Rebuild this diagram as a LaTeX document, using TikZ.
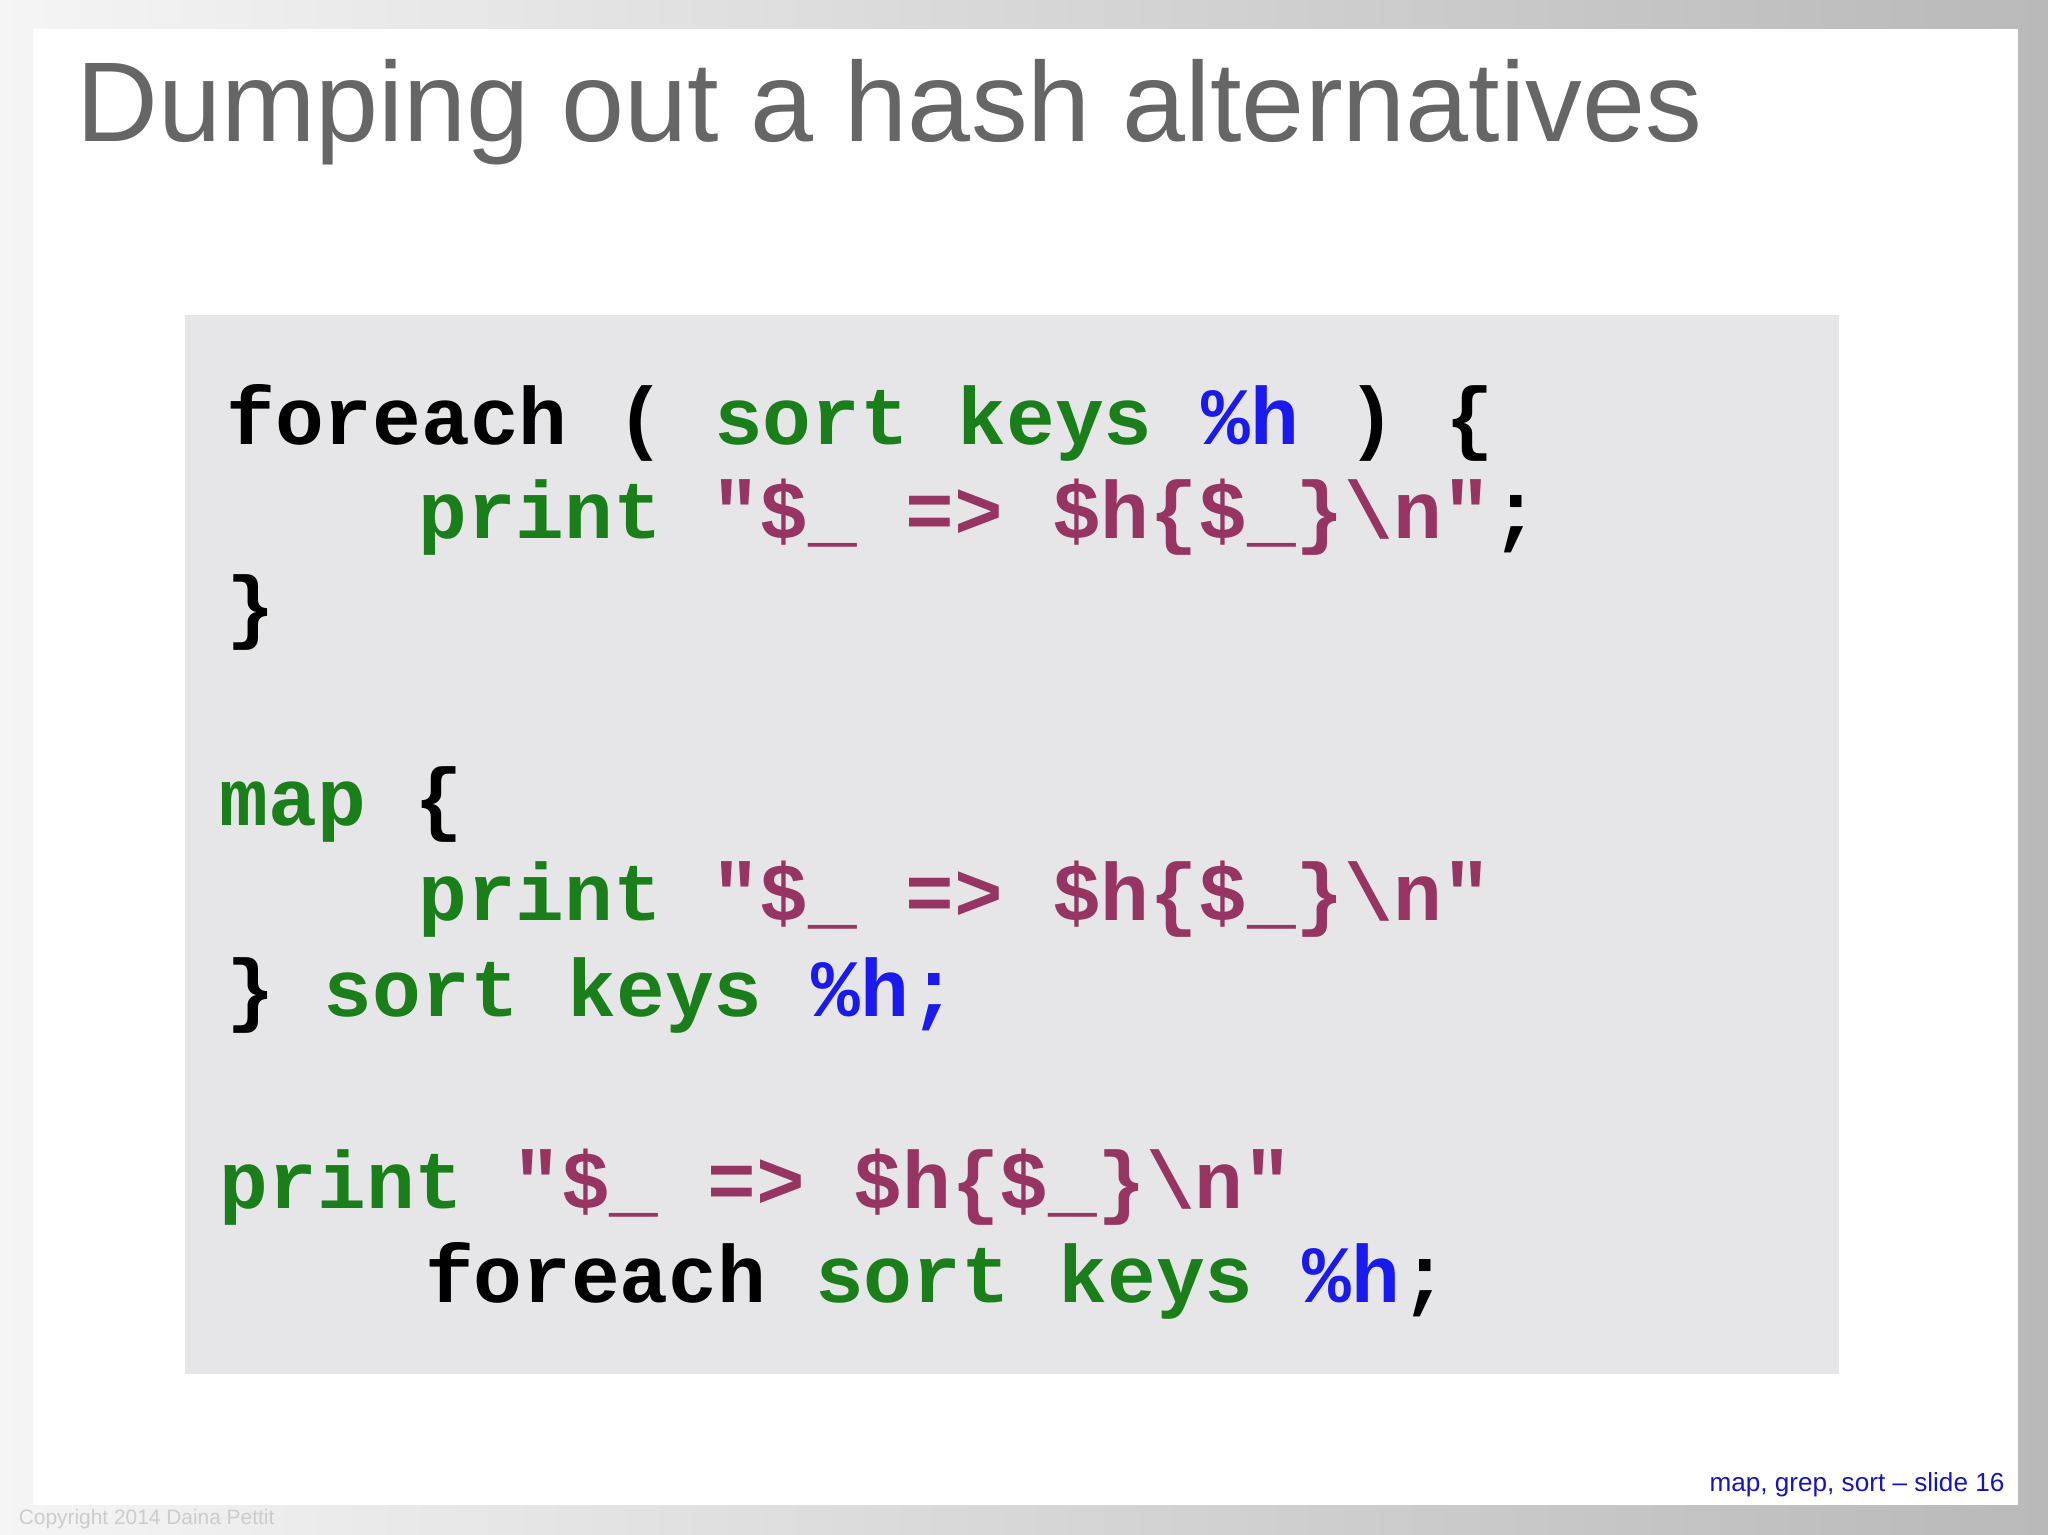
\documentclass[tikz,border=0pt]{standalone}
\usepackage{fontspec}
\setmainfont{Liberation Sans}
\newfontfamily\codefont{Liberation Mono}
\definecolor{cgreen}{HTML}{1A7F1A}
\definecolor{cblue}{HTML}{1A1AEE}
\definecolor{cpurp}{HTML}{973562}
\definecolor{titlegray}{HTML}{666666}
\definecolor{boxgray}{HTML}{E6E6E8}
\newcommand{\G}[1]{\textcolor{cgreen}{#1}}
\newcommand{\B}[1]{\textcolor{cblue}{#1}}
\newcommand{\Pu}[1]{\textcolor{cpurp}{#1}}
\begin{document}
\begin{tikzpicture}[x=0.5pt,y=-0.5pt,
  code/.style={anchor=base west,inner sep=0pt,font=\codefont\bfseries\fontsize{31.1}{37}\selectfont},
  title/.style={anchor=base west,inner sep=0pt,text=titlegray,font=\fontsize{43.4}{50}\selectfont}]
\useasboundingbox (0,0) rectangle (1568,1175);
\shade[left color=gray!8,right color=gray!55] (0,0) rectangle (1568,1175);
\fill[white] (25,22) rectangle (1545,1152);
\fill[boxgray] (142,241) rectangle (1408,1052);
\node[title] (t) at (58,108) {Dumping out a hash alternatives};
\node[code] (l1) at (173,340) {foreach ( \G{sort keys} \B{\%h} ) \{};
\node[code] (l2) at (320,412) {\G{print} \Pu{"\$\_ => \$h\{\$\_\}\textbackslash n"};};
\node[code] (l3) at (173,485) {\}};
\node[code] (l5) at (168,632) {\G{map} \{};
\node[code] (l6) at (320,705) {\G{print} \Pu{"\$\_ => \$h\{\$\_\}\textbackslash n"}};
\node[code] (l7) at (173,778) {\} \G{sort keys} \B{\%h;}};
\node[code] (l9) at (168,925) {\G{print} \Pu{"\$\_ => \$h\{\$\_\}\textbackslash n"}};
\node[code] (l10) at (325,997) {foreach \G{sort keys} \B{\%h};};
\node[anchor=base east,inner sep=0pt,text=cblue!80!black,font=\fontsize{10}{11}\selectfont] (f) at (1535,1142) {map, grep, sort – slide 16};
\node[anchor=base west,inner sep=0pt,text=gray!40,font=\fontsize{8}{9}\selectfont] (c) at (14,1167) {Copyright 2014 Daina Pettit};
\end{tikzpicture}
\end{document}
